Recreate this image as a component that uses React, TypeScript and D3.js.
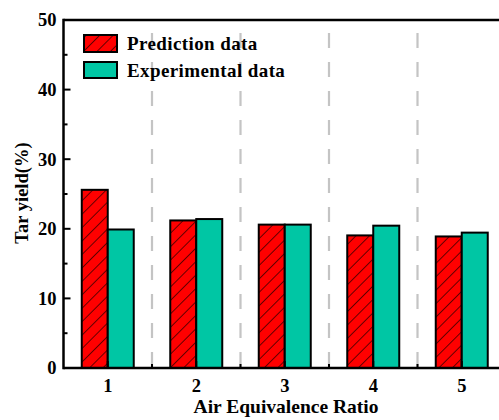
import React from "react";
import * as d3 from "d3";

const categories = [1, 2, 3, 4, 5];
const predictionData = [25.6, 21.2, 20.6, 19.05, 18.9];
const experimentalData = [19.9, 21.4, 20.6, 20.45, 19.45];
const yTicks = [0, 10, 20, 30, 40, 50];
const yMinorTicks = [5, 15, 25, 35, 45];
const seriesNames = ["Prediction data", "Experimental data"];

const W = 499;
const H = 420;
const left = 63.5;
const right = 506;
const top = 20;
const bottom = 368;
const FONT = "'Liberation Serif', 'Times New Roman', serif";

export default function App() {
  const x = d3.scaleLinear().domain([0.5, 5.5]).range([left, right]);
  const y = d3.scaleLinear().domain([0, 50]).range([bottom, top]);
  const barW = 26;
  const red = "#FF0000";
  const teal = "#00C6A4";
  const dividers = [1.5, 2.5, 3.5, 4.5];

  return (
    <svg
      width={W}
      height={H}
      style={{ position: "absolute", left: 0, top: 0, background: "#fff" }}
      fontFamily={FONT}
    >
      <defs>
        <pattern id="hatch" patternUnits="userSpaceOnUse" width="9.5" height="9.5" patternTransform="rotate(45)">
          <rect width="9.5" height="9.5" fill={red} />
          <line x1="0" y1="0" x2="0" y2="9.5" stroke="#000" strokeWidth="1.2" />
        </pattern>
      </defs>
      <rect width={W} height={H} fill="#fff" />
      {dividers.map((d) => (
        <line
          key={d}
          x1={x(d)}
          x2={x(d)}
          y1={top + 13}
          y2={bottom}
          stroke="#C4C4C4"
          strokeWidth={2.2}
          strokeDasharray="15 14"
        />
      ))}
      {categories.map((c, i) => (
        <g key={c}>
          <rect
            x={x(c) - barW}
            y={y(predictionData[i])}
            width={barW}
            height={bottom - y(predictionData[i])}
            fill="url(#hatch)"
            stroke="#000"
            strokeWidth={2}
          />
          <rect
            x={x(c)}
            y={y(experimentalData[i])}
            width={barW}
            height={bottom - y(experimentalData[i])}
            fill={teal}
            stroke="#000"
            strokeWidth={2}
          />
        </g>
      ))}
      <line x1={left} x2={left} y1={top - 1.2} y2={bottom + 1.2} stroke="#000" strokeWidth={2.5} />
      <line x1={left} x2={right} y1={top} y2={top} stroke="#000" strokeWidth={2.5} />
      <line x1={left} x2={right} y1={bottom} y2={bottom} stroke="#000" strokeWidth={2.5} />
      <line x1={right} x2={right} y1={top} y2={bottom} stroke="#000" strokeWidth={2.5} />
      {yTicks.map((t) => (
        <g key={t}>
          <line x1={left} x2={left + 7} y1={y(t)} y2={y(t)} stroke="#000" strokeWidth={2} />
          <text
            x={left - 7}
            y={y(t)}
            dy="0.35em"
            textAnchor="end"
            fontSize={18.5}
            fontWeight="bold"
          >
            {t}
          </text>
        </g>
      ))}
      {yMinorTicks.map((t) => (
        <line key={t} x1={left} x2={left + 4} y1={y(t)} y2={y(t)} stroke="#000" strokeWidth={2} />
      ))}
      {categories.map((c) => (
        <g key={c}>
          <line x1={x(c)} x2={x(c)} y1={bottom} y2={bottom - 7} stroke="#000" strokeWidth={2} />
          <text x={x(c)} y={392} textAnchor="middle" fontSize={18.5} fontWeight="bold">
            {c}
          </text>
        </g>
      ))}
      {dividers.map((d) => (
        <line key={d} x1={x(d)} x2={x(d)} y1={bottom} y2={bottom - 4} stroke="#000" strokeWidth={2} />
      ))}
      <text x={286} y={413} textAnchor="middle" fontSize={19.5} fontWeight="bold">
        Air Equivalence Ratio
      </text>
      <text
        transform={`translate(28, 193) rotate(-90)`}
        textAnchor="middle"
        fontSize={18.5}
        fontWeight="bold"
      >
        Tar yield(%)
      </text>
      <rect x={84} y={35} width={33} height={17} fill="url(#hatch)" stroke="#000" strokeWidth={2} />
      <text x={127} y={50} fontSize={19} fontWeight="bold" letterSpacing={0.4}>
        {seriesNames[0]}
      </text>
      <rect x={84} y={62} width={33} height={16} fill={teal} stroke="#000" strokeWidth={2} />
      <text x={127} y={77} fontSize={19} fontWeight="bold" letterSpacing={0.4}>
        {seriesNames[1]}
      </text>
    </svg>
  );
}
